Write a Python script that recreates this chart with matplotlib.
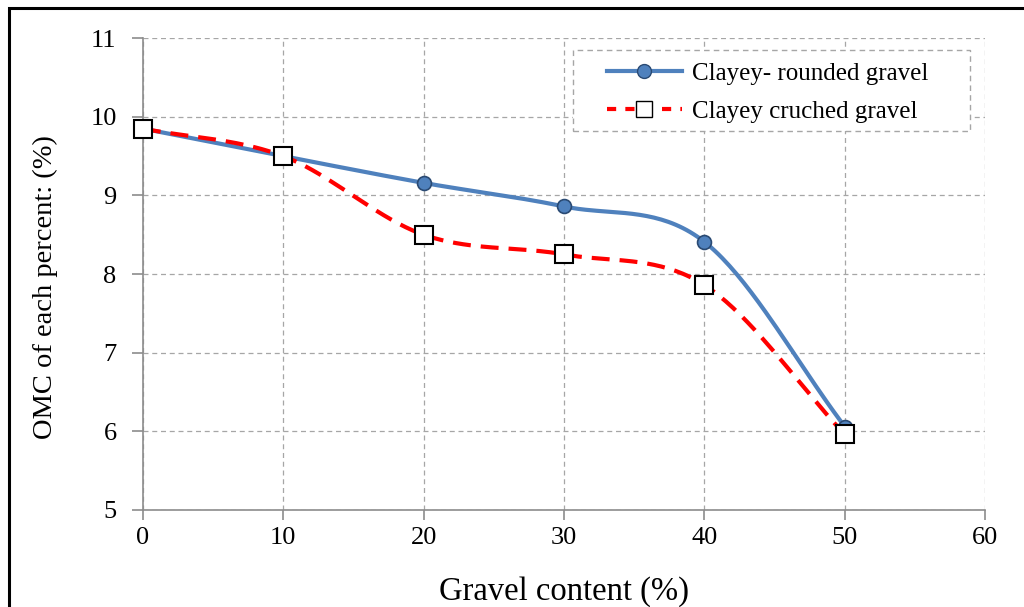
import numpy as np
import matplotlib.pyplot as plt
from matplotlib.patches import Rectangle

plt.rcParams['font.family'] = ['Liberation Serif', 'DejaVu Serif']

gravel = [0, 10, 20, 30, 40, 50]
omc_rounded = [9.85, 9.5, 9.16, 8.86, 8.41, 6.06]
omc_crushed = [9.85, 9.5, 8.5, 8.25, 7.86, 5.96]
label_rounded = 'Clayey- rounded gravel'
label_crushed = 'Clayey cruched gravel'


# smoothed line like the spreadsheet "smooth line" option (Catmull-Rom)
def smooth(x, y, n=40):
    x = np.asarray(x, float)
    y = np.asarray(y, float)
    px = np.concatenate([[2 * x[0] - x[1]], x, [2 * x[-1] - x[-2]]])
    py = np.concatenate([[2 * y[0] - y[1]], y, [2 * y[-1] - y[-2]]])
    xs, ys = [], []
    t = np.linspace(0, 1, n)
    for i in range(1, len(px) - 2):
        p0x, p1x, p2x, p3x = px[i - 1:i + 3]
        p0y, p1y, p2y, p3y = py[i - 1:i + 3]
        # bezier control points with tension 1/6
        c1x, c1y = p1x + (p2x - p0x) / 6, p1y + (p2y - p0y) / 6
        c2x, c2y = p2x - (p3x - p1x) / 6, p2y - (p3y - p1y) / 6
        bx = (1 - t)**3 * p1x + 3 * (1 - t)**2 * t * c1x + 3 * (1 - t) * t**2 * c2x + t**3 * p2x
        by = (1 - t)**3 * p1y + 3 * (1 - t)**2 * t * c1y + 3 * (1 - t) * t**2 * c2y + t**3 * p2y
        xs.extend(bx)
        ys.extend(by)
    return np.array(xs), np.array(ys)


fig = plt.figure(figsize=(10.24, 6.07), dpi=100)
ax = fig.add_axes([0.1396, 0.160, 0.8224, 0.777])

# outer frame
fig.patches.append(Rectangle((9 / 1024, -0.1), 1.2, 1 - 8 / 607 + 0.1,
                             transform=fig.transFigure, fill=False,
                             edgecolor='black', linewidth=2.2))

sx, sy = smooth(gravel, omc_rounded)
ax.plot(sx, sy, color='#4F81BD', linewidth=3, zorder=3)
ax.plot(gravel, omc_rounded, linestyle='none', marker='o', markersize=10,
        markerfacecolor='#4F81BD', markeredgecolor='#2A4A73', markeredgewidth=1.2,
        zorder=4, clip_on=False)
ax.plot([], [], color='#4F81BD', linewidth=3, marker='o', markersize=10,
        markerfacecolor='#4F81BD', markeredgecolor='#2A4A73', label=label_rounded)

cx, cy = smooth(gravel, omc_crushed)
ax.plot(cx, cy, color='#FF0000', linewidth=3, dashes=(4.3, 2.4), zorder=3)
ax.plot(gravel, omc_crushed, linestyle='none', marker='s', markersize=13.5,
        markerfacecolor='white', markeredgecolor='black', markeredgewidth=1.5,
        zorder=5, clip_on=False)
ax.plot([], [], color='#FF0000', linewidth=3, dashes=(2.2, 2.2), marker='s',
        markersize=11, markerfacecolor='white', markeredgecolor='black',
        label=label_crushed)

ax.set_xlim(0, 60)
ax.set_ylim(5, 11)
ax.set_xticks(range(0, 61, 10))
ax.set_yticks(range(5, 12))
ax.grid(True, color='#A6A6A6', linestyle=(0, (4, 3)), linewidth=0.9)

for s in ['top', 'right']:
    ax.spines[s].set_visible(False)
for s in ['left', 'bottom']:
    ax.spines[s].set_color('#8C8C8C')
    ax.spines[s].set_linewidth(1.2)
ax.tick_params(axis='both', direction='out', width=1.2, color='#8C8C8C',
               labelsize=19)
ax.tick_params(axis='x', length=7, pad=5)
ax.tick_params(axis='y', length=8, pad=11)

ax.set_xlabel('Gravel content (%)', fontsize=23.5, labelpad=20)
ax.set_ylabel('OMC of each percent: (%)', fontsize=20.5)
ax.yaxis.set_label_coords(-0.101, 0.472)

# legend box drawn separately (dashed frame)
ax.add_patch(Rectangle((0.5107, 0.803), 0.4713, 0.1716, transform=ax.transAxes,
                       fill=False, edgecolor='#A6A6A6', linestyle=(0, (4, 3)),
                       linewidth=1, zorder=6, clip_on=False))
ax.add_patch(Rectangle((0.5107, 0.803), 0.4713, 0.1716, transform=ax.transAxes,
                       facecolor='white', edgecolor='none', zorder=2.5))
leg = ax.legend(loc='upper left', bbox_to_anchor=(0.551, 0.949), fontsize=18,
                frameon=False, handlelength=3.0, borderpad=0, borderaxespad=0,
                labelspacing=0.63, handletextpad=0.4)

fig.savefig('out.png', dpi=100)
